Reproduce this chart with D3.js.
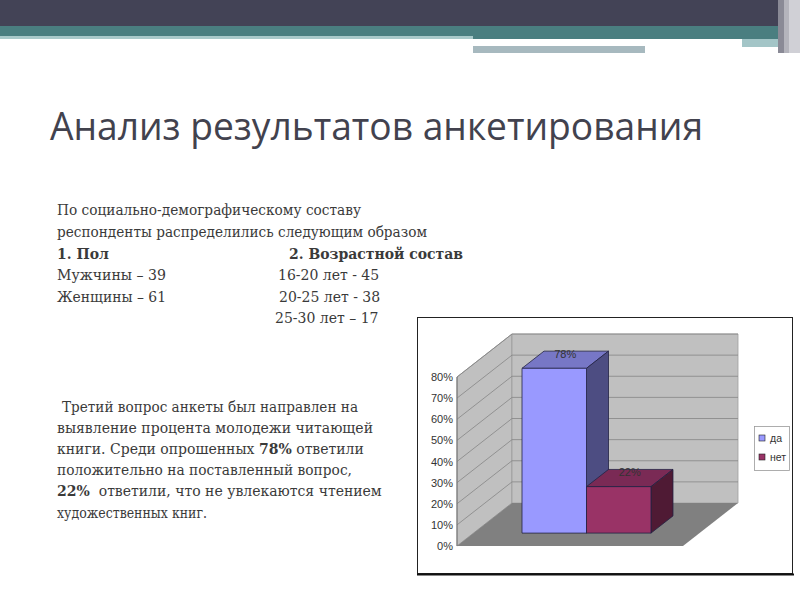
<!DOCTYPE html>
<html>
<head>
<meta charset="utf-8">
<script src="https://cdn.jsdelivr.net/npm/d3@7"></script>
<style>
  html, body { margin: 0; padding: 0; background: #fff; }
</style>
</head>
<body>
<div id="slide"></div>
<script>
// chart data
const series = ['да', 'нет']
const values = [0.78, 0.22]
const valueLabels = ['78%', '22%']
const ticks = [0, 0.1, 0.2, 0.3, 0.4, 0.5, 0.6, 0.7, 0.8]

// slide text
const title = 'Анализ результатов анкетирования'
const introLines = ['По социально-демографическому составу', 'респонденты распределились следующим образом']
const genderHead = '1. Пол'
const ageHead = '2. Возрастной состав'
const genderRows = ['Мужчины – 39', 'Женщины – 61']
const ageRows = ['16-20 лет - 45', '20-25 лет - 38', '25-30 лет – 17']

const W = 800
const H = 600

const svg = d3.select('#slide')
  .append('svg')
  .attr('width', W)
  .attr('height', H)
  .attr('font-family', 'Liberation Sans, Arial, sans-serif')

// header bands
svg.append('rect').attr('x', 0).attr('y', 0).attr('width', W).attr('height', 26).attr('fill', '#434356')
svg.append('rect').attr('x', 0).attr('y', 26).attr('width', 778).attr('height', 10).attr('fill', '#4a7e80')
svg.append('rect').attr('x', 0).attr('y', 36).attr('width', 473).attr('height', 3).attr('fill', '#a9c9ca')
svg.append('rect').attr('x', 473).attr('y', 36).attr('width', 305).attr('height', 3).attr('fill', '#4a7e80')
svg.append('rect').attr('x', 742).attr('y', 39).attr('width', 45).attr('height', 8).attr('fill', '#a3c5c7')
svg.append('rect').attr('x', 473).attr('y', 46).attr('width', 172).attr('height', 7).attr('fill', '#a7b9bf')
svg.append('rect').attr('x', 778).attr('y', 0).attr('width', 6).attr('height', 53).attr('fill', '#8a8a96')
svg.append('rect').attr('x', 784).attr('y', 0).attr('width', 5).attr('height', 53).attr('fill', '#b4b4bc')
svg.append('rect').attr('x', 789).attr('y', 0).attr('width', 11).attr('height', 53).attr('fill', '#d0d0d6')

// title
svg.append('text')
  .attr('x', 50)
  .attr('y', 140)
  .attr('font-family', 'Open Sans, sans-serif')
  .attr('font-size', 38)
  .attr('fill', '#42424e')
  .attr('textLength', 653)
  .attr('lengthAdjust', 'spacingAndGlyphs')
  .text(title)

const serif = 'DejaVu Serif, serif'
const textColor = '#3a3a3a'

const body = svg.append('g')
  .attr('font-family', serif)
  .attr('font-size', 14)
  .attr('fill', textColor)

body.selectAll('.intro')
  .data(introLines)
  .enter()
  .append('text')
  .attr('x', 57)
  .attr('y', (d, i) => 215 + i * 21.7)
  .attr('textLength', (d, i) => i === 0 ? 304 : 370)
  .attr('lengthAdjust', 'spacingAndGlyphs')
  .text(d => d)

body.append('text').attr('x', 57).attr('y', 258.5).attr('font-weight', 'bold').text(genderHead)
body.append('text').attr('x', 289).attr('y', 258.5).attr('font-weight', 'bold')
  .attr('textLength', 174).attr('lengthAdjust', 'spacingAndGlyphs').text(ageHead)

body.selectAll('.gender')
  .data(genderRows)
  .enter()
  .append('text')
  .attr('x', 57)
  .attr('y', (d, i) => 280 + i * 21.6)
  .attr('textLength', 109)
  .attr('lengthAdjust', 'spacingAndGlyphs')
  .text(d => d)

body.selectAll('.age')
  .data(ageRows)
  .enter()
  .append('text')
  .attr('x', (d, i) => [278, 279, 275][i])
  .attr('y', (d, i) => 280 + i * 21.6)
  .text(d => d)

// lower paragraph
const para = [
  [{ t: 'Третий вопрос анкеты был направлен на' }],
  [{ t: 'выявление процента молодежи читающей' }],
  [{ t: 'книги. Среди опрошенных ' }, { t: '78%', b: true }, { t: ' ответили' }],
  [{ t: 'положительно на поставленный вопрос,' }],
  [{ t: '22%', b: true }, { t: '  ответили, что не увлекаются чтением' }],
  [{ t: 'художественных книг.' }]
]
const paraX = [62, 57, 57, 57, 57, 57]
const paraEnd = [358, 373, 358, 352, 370, 207]

para.forEach((line, i) => {
  const t = body.append('text')
    .attr('x', paraX[i])
    .attr('y', 412 + i * 21.1)
    .attr('xml:space', 'preserve')
  if (line.length === 1) {
    t.attr('textLength', paraEnd[i] - paraX[i]).attr('lengthAdjust', 'spacingAndGlyphs')
  }
  line.forEach(s => {
    t.append('tspan').attr('font-weight', s.b ? 'bold' : null).text(s.t)
  })
})

// chart frame
svg.append('rect')
  .attr('x', 417.5).attr('y', 317.5)
  .attr('width', 375).attr('height', 256)
  .attr('fill', '#fff').attr('stroke', '#222').attr('stroke-width', 1)
svg.append('line')
  .attr('x1', 417).attr('x2', 794).attr('y1', 574.5).attr('y2', 574.5)
  .attr('stroke', '#111').attr('stroke-width', 2)

// 3D plot geometry
const origin = { x: 457, y: 546 }
const depth = { x: 55, y: -43 }
const plotW = 226

const yScale = d3.scaleLinear().domain([0, 0.8]).range([0, -169])
const xScale = d3.scaleBand().domain(series).range([0, plotW]).paddingInner(0).paddingOuter(0.752)

const pt = (x, v, dz) => [origin.x + x + depth.x * dz, origin.y + yScale(v) + depth.y * dz]
const poly = pts => pts.map(p => p.join(',')).join(' ')

const plot = svg.append('g')

// walls and floor
plot.append('polygon')
  .attr('points', poly([pt(0, 0, 0), pt(0, 0.8, 0), pt(0, 0.8, 1), pt(0, 0, 1)]))
  .attr('fill', '#c0c0c0').attr('stroke', '#8a8a8a').attr('stroke-width', 0.8)
plot.append('polygon')
  .attr('points', poly([pt(0, 0, 1), pt(0, 0.8, 1), pt(plotW, 0.8, 1), pt(plotW, 0, 1)]))
  .attr('fill', '#c0c0c0').attr('stroke', '#a0a0a0').attr('stroke-width', 0.8)
plot.append('polygon')
  .attr('points', poly([pt(0, 0, 0), pt(plotW, 0, 0), pt(plotW, 0, 1), pt(0, 0, 1)]))
  .attr('fill', '#808080')

// gridlines
const grid = plot.append('g').attr('stroke', '#858585').attr('stroke-width', 0.8).attr('fill', 'none')
grid.selectAll('.gw')
  .data(ticks.slice(1))
  .enter()
  .append('polyline')
  .attr('points', d => poly([pt(0, d, 0), pt(0, d, 1), pt(plotW, d, 1)]))

// axis line
plot.append('line')
  .attr('x1', origin.x).attr('x2', origin.x)
  .attr('y1', origin.y).attr('y2', origin.y + yScale(0.8))
  .attr('stroke', '#777').attr('stroke-width', 1)

plot.selectAll('.tick')
  .data(ticks)
  .enter()
  .append('text')
  .attr('x', origin.x - 4)
  .attr('y', d => origin.y + yScale(d) + 4)
  .attr('text-anchor', 'end')
  .attr('font-size', 11)
  .attr('fill', '#333')
  .text(d => d3.format('.0%')(d))

// bars
const frontColors = ['#9999ff', '#993366']
const topColors = ['#7777c6', '#7a2a55']
const sideColors = ['#4d4d82', '#4f1a34']
const z0 = 0.3
const z1 = 0.7

const bars = plot.selectAll('.bar')
  .data(series)
  .enter()
  .append('g')
  .attr('stroke', '#222244')
  .attr('stroke-width', 0.8)

bars.append('polygon')
  .attr('points', (d, i) => {
    const x0 = xScale(d)
    const x1 = x0 + xScale.bandwidth()
    return poly([pt(x0, values[i], z0), pt(x1, values[i], z0), pt(x1, values[i], z1), pt(x0, values[i], z1)])
  })
  .attr('fill', (d, i) => topColors[i])

bars.append('polygon')
  .attr('points', (d, i) => {
    const x1 = xScale(d) + xScale.bandwidth()
    return poly([pt(x1, 0, z0), pt(x1, values[i], z0), pt(x1, values[i], z1), pt(x1, 0, z1)])
  })
  .attr('fill', (d, i) => sideColors[i])

bars.append('polygon')
  .attr('points', (d, i) => {
    const x0 = xScale(d)
    const x1 = x0 + xScale.bandwidth()
    return poly([pt(x0, 0, z0), pt(x1, 0, z0), pt(x1, values[i], z0), pt(x0, values[i], z0)])
  })
  .attr('fill', (d, i) => frontColors[i])

// value labels
plot.selectAll('.lbl')
  .data(series)
  .enter()
  .append('text')
  .attr('x', d => pt(xScale(d) + xScale.bandwidth() / 2, 0, 0.5)[0])
  .attr('y', (d, i) => pt(0, values[i], 0.5)[1] - 2)
  .attr('text-anchor', 'middle')
  .attr('font-size', 11)
  .attr('fill', '#333')
  .text((d, i) => valueLabels[i])

// legend
const legend = svg.append('g')
legend.append('rect')
  .attr('x', 754.5).attr('y', 426.5).attr('width', 35).attr('height', 44)
  .attr('fill', '#fff').attr('stroke', '#999').attr('stroke-width', 0.8)

const items = legend.selectAll('.item')
  .data(series)
  .enter()
  .append('g')
  .attr('transform', (d, i) => `translate(759,${435 + i * 19})`)

items.append('rect')
  .attr('width', 6).attr('height', 6)
  .attr('fill', (d, i) => frontColors[i])
  .attr('stroke', '#222').attr('stroke-width', 0.6)

items.append('text')
  .attr('x', 11).attr('y', 7)
  .attr('font-size', 10.5)
  .attr('fill', '#333')
  .text(d => d)
</script>
</body>
</html>
